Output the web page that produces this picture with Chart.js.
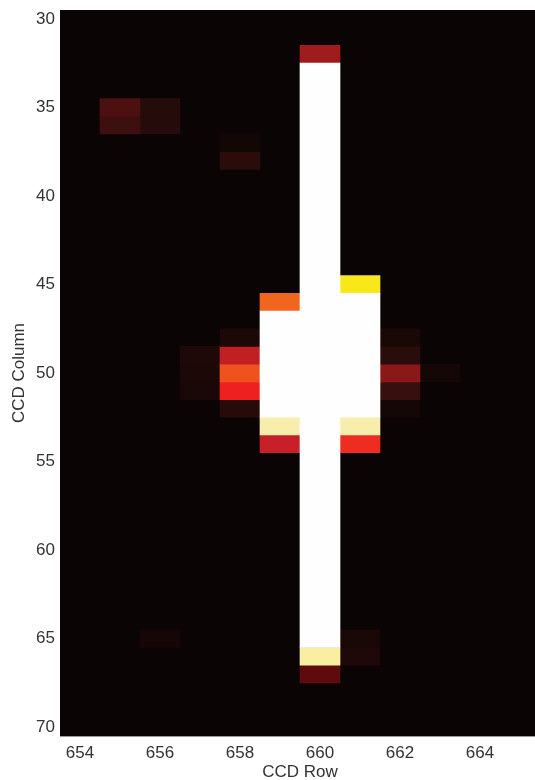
<!DOCTYPE html>
<html>
<head>
<meta charset="utf-8">
<style>
html, body { margin: 0; padding: 0; background: #fff; overflow: hidden; }
#wrap { width: 535px; height: 780px; overflow: hidden; }
</style>
<script src="https://cdn.jsdelivr.net/npm/chart.js@4/dist/chart.umd.min.js"></script>
</head>
<body>
<div id="wrap"><canvas id="chart" width="540" height="780"></canvas></div>
<script>
const rows = ['654', '655', '656', '657', '658', '659', '660', '661', '662', '663', '664', '665'];
const columnTicks = [30, 35, 40, 45, 50, 55, 60, 65, 70];

// saturated runs (white part of the star image)
const satRow = ['660', '659', '661'];
const satFrom = [33, 47, 46];
const satTo = [65, 52, 52];

// single pixels above the background
const cellRow = [
    '660', '660', '660',
    '655', '655', '656', '656', '658', '658',
    '659', '659', '659', '661', '661', '661',
    '658', '658', '658', '658', '658',
    '657', '657', '657',
    '662', '662', '662', '662', '662', '663',
    '661', '661', '656'
];
const cellColumn = [
    32, 66, 67,
    35, 36, 35, 36, 37, 38,
    46, 53, 54, 45, 53, 54,
    48, 49, 50, 51, 52,
    49, 50, 51,
    48, 49, 50, 51, 52, 50,
    65, 66, 65
];
const cellColor = [
    '#a01c1c', '#f8f0a0', '#5f0a0c',
    '#4e0f10', '#3e0f0f', '#260b0b', '#260b0b', '#130706', '#2a0c0b',
    '#f0661e', '#f6eeaa', '#c82028', '#f8e81a', '#f6eeaa', '#ee2c20',
    '#1c0807', '#c02024', '#f0521e', '#ee2020', '#260b0a',
    '#1e0908', '#1b0807', '#190807',
    '#1a0807', '#2a0c0b', '#8a1818', '#380f0f', '#140706', '#140706',
    '#1a0807', '#1e0908', '#160706'
];

const datasets = [];
satRow.forEach((row, i) => {
    datasets.push({
        data: [{ x: row, y: [satFrom[i] - 0.5, satTo[i] + 0.5] }],
        backgroundColor: '#fffefe'
    });
});
cellRow.forEach((row, i) => {
    datasets.push({
        data: [{ x: row, y: [cellColumn[i] - 0.5, cellColumn[i] + 0.5] }],
        backgroundColor: cellColor[i]
    });
});

const plotBackground = {
    id: 'plotBackground',
    beforeDatasetsDraw(chart) {
        const { ctx, chartArea } = chart;
        ctx.save();
        ctx.fillStyle = '#0a0405';
        ctx.fillRect(chartArea.left, chartArea.top, chartArea.width, chartArea.height);
        ctx.restore();
    }
};

Chart.defaults.font.family = '"Liberation Sans", Arial, sans-serif';
Chart.defaults.color = '#333333';

new Chart(document.getElementById('chart'), {
    type: 'bar',
    data: { labels: rows, datasets: datasets },
    options: {
        responsive: false,
        animation: false,
        layout: { padding: { top: 10, left: 0, right: 0, bottom: 0 } },
        datasets: {
            bar: {
                grouped: false,
                barPercentage: 1,
                categoryPercentage: 1,
                borderWidth: 0
            }
        },
        plugins: {
            legend: { display: false },
            tooltip: { enabled: false }
        },
        scales: {
            x: {
                type: 'category',
                offset: true,
                afterFit(scale) { scale.height = 44; },
                grid: { display: false, drawTicks: false },
                border: { color: '#9a9a9a', width: 1 },
                ticks: {
                    autoSkip: false,
                    maxRotation: 0,
                    padding: 7,
                    font: { size: 17 },
                    callback(value, index) { return index % 2 === 0 ? rows[index] : ''; }
                },
                title: {
                    display: true,
                    text: 'CCD Row',
                    font: { size: 17 },
                    padding: { top: 0, bottom: -3 }
                }
            },
            y: {
                type: 'linear',
                reverse: true,
                min: 29.5,
                max: 70.5,
                afterFit(scale) {
                    scale.width = 60;
                    scale.paddingTop = 0;
                    scale.paddingBottom = 0;
                },
                afterBuildTicks(scale) { scale.ticks = columnTicks.map(v => ({ value: v })); },
                grid: { display: false, drawTicks: false },
                border: { color: '#9a9a9a', width: 1 },
                ticks: {
                    autoSkip: false,
                    padding: 5,
                    font: { size: 17 }
                },
                title: {
                    display: true,
                    text: 'CCD Column',
                    font: { size: 17 },
                    padding: { top: 9, bottom: 0 }
                }
            }
        }
    },
    plugins: [plotBackground]
});
</script>
</body>
</html>
